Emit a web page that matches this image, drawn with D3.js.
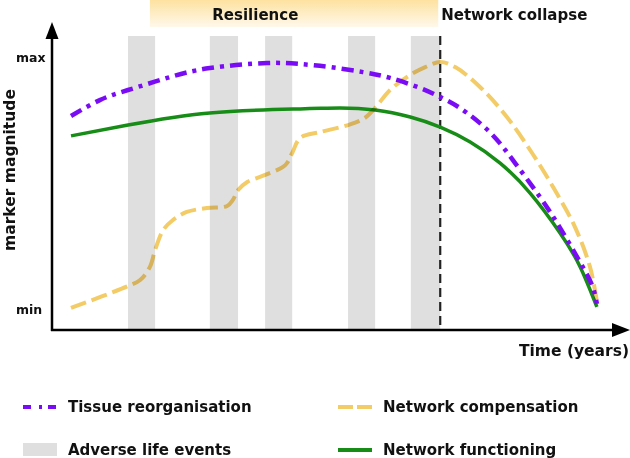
<!DOCTYPE html>
<html lang="en">
<head>
    <meta charset="UTF-8">
    <title>Resilience and network collapse</title>
    <script type="text/javascript" src="https://cdn.jsdelivr.net/npm/d3@7/dist/d3.min.js"></script>
    <style type="text/css">
        body {
            margin: 0;
            background: #fff;
        }
        text {
            font-family: "DejaVu Sans", Verdana, sans-serif;
            font-weight: bold;
            fill: #111;
        }
    </style>
</head>
<body>
    <script type="text/javascript">
        //Width and height
        var w = 630;
        var h = 458;

        //Curves: time (0-100) and magnitude (0 = min, 1 = max)
        var tissueTime  = [3.3, 8.3, 13.2, 20.0, 27.4, 37.3, 43.1, 48.3, 54.0, 58.7, 63.9, 67.4, 70.8, 76.0, 80.4, 84.7, 88.2, 91.7, 93.8, 94.6];
        var tissueValue = [0.766, 0.829, 0.869, 0.917, 0.956, 0.976, 0.972, 0.960, 0.940, 0.917, 0.877, 0.841, 0.798, 0.702, 0.579, 0.445, 0.322, 0.185, 0.092, 0.020];

        var functionTime  = [3.3, 13.2, 27.4, 43.1, 50.0, 56.1, 62.2, 67.4, 72.6, 77.8, 83.0, 88.2, 91.7, 94.6];
        var functionValue = [0.687, 0.730, 0.778, 0.794, 0.798, 0.790, 0.762, 0.722, 0.663, 0.579, 0.460, 0.302, 0.167, 0.008];

        var compensationTime  = [3.3, 13.2, 15.3, 17.0, 17.9, 19.3, 21.0, 23.4, 26.9, 30.4, 31.4, 32.3, 33.9, 37.0, 40.5, 41.7, 43.1, 46.5, 51.4, 54.3, 56.1, 58.7, 62.2, 64.8, 67.4, 70.0, 74.3, 78.7, 83.0, 87.3, 90.8, 93.4, 94.6];
        var compensationValue = [0.004, 0.091, 0.115, 0.167, 0.234, 0.313, 0.353, 0.385, 0.401, 0.409, 0.433, 0.472, 0.504, 0.532, 0.571, 0.619, 0.679, 0.702, 0.730, 0.758, 0.798, 0.869, 0.929, 0.960, 0.980, 0.960, 0.881, 0.770, 0.631, 0.472, 0.325, 0.167, 0.030];

        //Adverse life events (start and end time)
        var eventStart = [13.2, 27.4, 37.0, 51.4, 62.3];
        var eventEnd   = [17.9, 32.3, 41.7, 56.1, 67.4];

        var collapseTime = 67.4;
        var resilienceStart = 17.0;
        var resilienceLabelTime = 35.3;

        var yTickValues = [0, 1];
        var yTickLabels = ["min", "max"];

        var legendLabels = ["Tissue reorganisation", "Network compensation", "Adverse life events", "Network functioning"];

        //Layout
        var axisX = 52;
        var axisY = 330;
        var plotTop = 36;

        var xScale = d3.scaleLinear()
            .domain([0, 100])
            .range([axisX, 628]);

        var yScale = d3.scaleLinear()
            .domain([0, 1])
            .range([309, 57]);

        //Create SVG element
        var svg = d3.select("body")
            .append("svg")
            .attr("width", w)
            .attr("height", h);

        var defs = svg.append("defs");

        var grad = defs.append("linearGradient")
            .attr("id", "resGrad")
            .attr("x1", 0).attr("y1", 0)
            .attr("x2", 0).attr("y2", 1);
        grad.append("stop").attr("offset", "0%").attr("stop-color", "#fde2a0");
        grad.append("stop").attr("offset", "100%").attr("stop-color", "#fff8ea");

        //Resilience band
        svg.append("rect")
            .attr("x", xScale(resilienceStart))
            .attr("y", 0)
            .attr("width", xScale(collapseTime) - xScale(resilienceStart) - 2)
            .attr("height", 27)
            .attr("fill", "url(#resGrad)");

        svg.append("text")
            .attr("x", xScale(resilienceLabelTime))
            .attr("y", 20)
            .attr("text-anchor", "middle")
            .style("font-size", "15px")
            .text("Resilience");

        svg.append("text")
            .attr("x", xScale(collapseTime) + 1)
            .attr("y", 20)
            .style("font-size", "15px")
            .text("Network collapse");

        //Adverse life event bars
        svg.selectAll("rect.event")
            .data(d3.range(eventStart.length))
            .enter()
            .append("rect")
            .attr("class", "event")
            .attr("x", function(i) {
                return xScale(eventStart[i]);
            })
            .attr("y", plotTop)
            .attr("width", function(i) {
                return xScale(eventEnd[i]) - xScale(eventStart[i]);
            })
            .attr("height", axisY - plotTop)
            .attr("fill", "#e0dfdf");

        //Collapse line
        svg.append("line")
            .attr("x1", xScale(collapseTime))
            .attr("x2", xScale(collapseTime))
            .attr("y1", plotTop)
            .attr("y2", axisY)
            .attr("stroke", "#222")
            .attr("stroke-width", 2.2)
            .attr("stroke-dasharray", "9,5");

        var smoothLine = d3.line()
            .x(function(d) { return xScale(d[0]); })
            .y(function(d) { return yScale(d[1]); })
            .curve(d3.curveNatural);

        var stepLine = d3.line()
            .x(function(d) { return xScale(d[0]); })
            .y(function(d) { return yScale(d[1]); })
            .curve(d3.curveCatmullRom.alpha(0.5));

        //Curves
        svg.append("path")
            .datum(d3.zip(functionTime, functionValue))
            .attr("d", smoothLine)
            .attr("fill", "none")
            .attr("stroke", "#178c17")
            .attr("stroke-width", 3.5);

        svg.append("path")
            .datum(d3.zip(compensationTime, compensationValue))
            .attr("d", stepLine)
            .attr("fill", "none")
            .attr("stroke", "#f3cc68")
            .attr("stroke-width", 4)
            .attr("stroke-dasharray", "16,6")
            .style("mix-blend-mode", "multiply");

        svg.append("path")
            .datum(d3.zip(tissueTime, tissueValue))
            .attr("d", smoothLine)
            .attr("fill", "none")
            .attr("stroke", "#7a0cf5")
            .attr("stroke-width", 4.5)
            .attr("stroke-dasharray", "12,6,4,6");

        //Axes
        svg.append("line")
            .attr("x1", axisX).attr("y1", axisY + 1)
            .attr("x2", axisX).attr("y2", 36)
            .attr("stroke", "#000")
            .attr("stroke-width", 2.5);
        svg.append("path")
            .attr("d", "M" + axisX + ",22L" + (axisX - 6.5) + ",39L" + (axisX + 6.5) + ",39Z")
            .attr("fill", "#000");

        svg.append("line")
            .attr("x1", axisX - 1).attr("y1", axisY)
            .attr("x2", 615).attr("y2", axisY)
            .attr("stroke", "#000")
            .attr("stroke-width", 2.5);
        svg.append("path")
            .attr("d", "M630," + axisY + "L612," + (axisY - 7) + "L612," + (axisY + 7) + "Z")
            .attr("fill", "#000");

        var yAxis = d3.axisLeft(yScale)
            .tickValues(yTickValues)
            .tickSize(0)
            .tickFormat(function(d, i) {
                return yTickLabels[i];
            });

        var yAxisG = svg.append("g")
            .attr("transform", "translate(" + axisX + ",0)")
            .call(yAxis);
        yAxisG.select(".domain").remove();
        yAxisG.selectAll("text")
            .attr("x", -36)
            .attr("text-anchor", "start")
            .style("font-size", "12.5px")
            .style("font-family", "\"DejaVu Sans\", Verdana, sans-serif")
            .style("font-weight", "bold")
            .attr("fill", "#111");

        svg.append("text")
            .attr("transform", "translate(15,170) rotate(-90)")
            .attr("text-anchor", "middle")
            .style("font-size", "15.5px")
            .text("marker magnitude");

        svg.append("text")
            .attr("x", 629)
            .attr("y", 356)
            .attr("text-anchor", "end")
            .style("font-size", "15.5px")
            .text("Time (years)");

        //Legend
        var legend = svg.append("g");

        legend.append("line")
            .attr("x1", 23).attr("x2", 57)
            .attr("y1", 407).attr("y2", 407)
            .attr("stroke", "#7a0cf5")
            .attr("stroke-width", 4)
            .attr("stroke-dasharray", "8,8,3,6");

        legend.append("line")
            .attr("x1", 338).attr("x2", 372)
            .attr("y1", 407).attr("y2", 407)
            .attr("stroke", "#f3cc68")
            .attr("stroke-width", 4)
            .attr("stroke-dasharray", "15,4");

        legend.append("rect")
            .attr("x", 23).attr("y", 443)
            .attr("width", 34).attr("height", 13)
            .attr("fill", "#e0dfdf");

        legend.append("line")
            .attr("x1", 338).attr("x2", 372)
            .attr("y1", 450).attr("y2", 450)
            .attr("stroke", "#178c17")
            .attr("stroke-width", 4);

        legend.selectAll("text")
            .data(legendLabels)
            .enter()
            .append("text")
            .attr("x", function(d, i) {
                return i % 2 === 0 ? 68 : 383;
            })
            .attr("y", function(d, i) {
                return i < 2 ? 412 : 455;
            })
            .style("font-size", "15px")
            .text(function(d) {
                return d;
            });
    </script>
</body>
</html>
